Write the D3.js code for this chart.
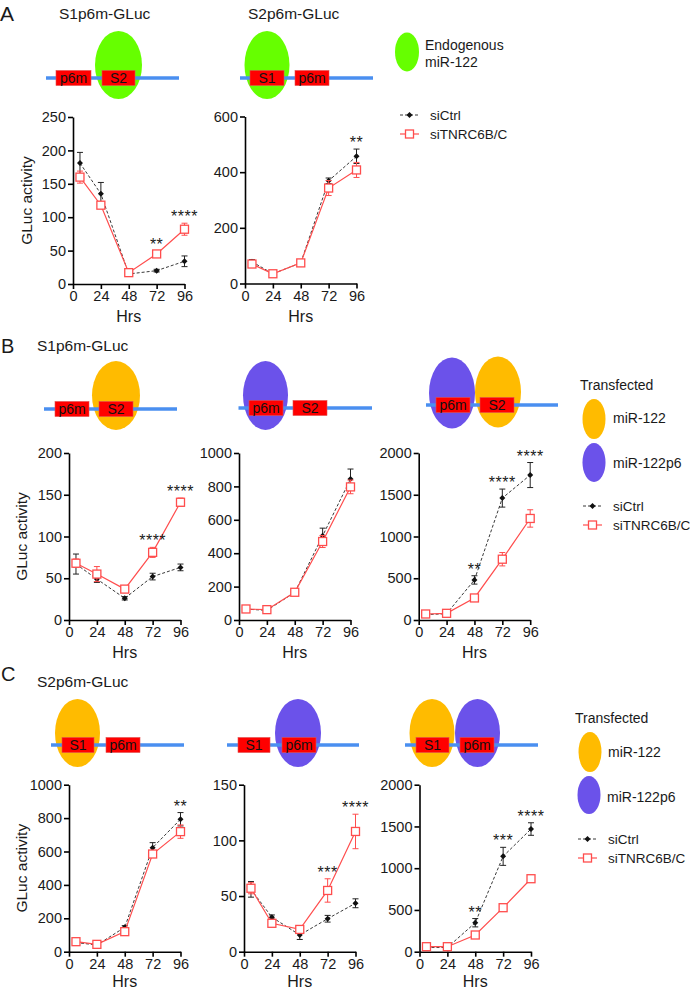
<!DOCTYPE html>
<html><head><meta charset="utf-8">
<script src="https://cdn.jsdelivr.net/npm/d3@7"></script>
<style>body{margin:0;background:#fff}svg{display:block}</style>
</head><body><svg id="c" width="690" height="991"></svg>
<script>
// ---------- DATA ----------
const hours = [6, 24, 48, 72, 96];
const xTicks = [0, 24, 48, 72, 96];
const seriesNames = ["siCtrl", "siTNRC6B/C"];

// Panel A
const a1Ticks = [0, 50, 100, 150, 200, 250];
const a1Ctrl = [181, 135, 15, 20, 34];
const a1CtrlErr = [16, 17, 2, 2, 8];
const a1Tnrc = [160, 118, 17, 45, 82];
const a1TnrcErr = [9, 5, 3, 4, 9];
const a1Stars = ["", "", "", "**", "****"];

const a2Ticks = [0, 200, 400, 600];
const a2Ctrl = [78, 35, 74, 369, 457];
const a2CtrlErr = [8, 4, 5, 10, 26];
const a2Tnrc = [70, 35, 74, 343, 408];
const a2TnrcErr = [6, 4, 5, 27, 27];
const a2Stars = ["", "", "", "", "**"];

// Panel B
const b1Ticks = [0, 50, 100, 150, 200];
const b1Ctrl = [67, 49, 26, 52, 63];
const b1CtrlErr = [12, 4, 2, 4, 4];
const b1Tnrc = [68, 55, 37, 81, 141];
const b1TnrcErr = [5, 9, 4, 6, 5];
const b1Stars = ["", "", "", "****", "****"];

const b2Ticks = [0, 200, 400, 600, 800, 1000];
const b2Ctrl = [65, 58, 165, 504, 844];
const b2CtrlErr = [5, 5, 10, 46, 60];
const b2Tnrc = [66, 62, 166, 470, 797];
const b2TnrcErr = [5, 5, 10, 36, 41];
const b2Stars = ["", "", "", "", ""];

const b3Ticks = [0, 500, 1000, 1500, 2000];
const b3Ctrl = [65, 75, 480, 1460, 1736];
const b3CtrlErr = [10, 10, 50, 108, 150];
const b3Tnrc = [72, 80, 264, 728, 1216];
const b3TnrcErr = [10, 10, 25, 80, 104];
const b3Stars = ["", "", "**", "****", "****"];

// Panel C
const c1Ticks = [0, 200, 400, 600, 800, 1000];
const c1Ctrl = [55, 40, 146, 623, 793];
const c1CtrlErr = [5, 5, 10, 30, 40];
const c1Tnrc = [60, 44, 120, 585, 719];
const c1TnrcErr = [5, 5, 15, 15, 40];
const c1Stars = ["", "", "", "", "**"];

const c2Ticks = [0, 50, 100, 150];
const c2Ctrl = [56, 31, 15, 29.6, 43.5];
const c2CtrlErr = [7, 2, 4, 3, 4];
const c2Tnrc = [57, 25.5, 20, 55, 108];
const c2TnrcErr = [5, 2, 2, 10.5, 15.5];
const c2Stars = ["", "", "", "***", "****"];

const c3Ticks = [0, 500, 1000, 1500, 2000];
const c3Ctrl = [50, 50, 347, 1142, 1469];
const c3CtrlErr = [10, 10, 50, 108, 75];
const c3Tnrc = [60, 60, 200, 527, 874];
const c3TnrcErr = [10, 10, 15, 20, 20];
const c3Stars = ["", "", "**", "***", "****"];

// ---------- STYLE ----------
const FONT = '"Liberation Sans", Arial, Helvetica, sans-serif';
const GREEN = "#66ff00", ORANGE = "#ffbb00", PURPLE = "#6b52ea", BLUE = "#4a8ff0", BOXRED = "#ff0000";
const SRED = "#ff4d4d", INK = "#1a1a1a";

const svg = d3.select("#c").attr("font-family", FONT);

function txt(x, y, s, size, opts = {}) {
  const t = svg.append("text").attr("x", x).attr("y", y).text(s)
    .attr("font-size", size).attr("fill", opts.fill || INK)
    .attr("text-anchor", opts.anchor || "start");
  if (opts.rotate) t.attr("transform", `rotate(-90,${x},${y})`);
  if (opts.ls) t.attr("letter-spacing", opts.ls);
  return t;
}

const diamond = "M0,-3L3,0L0,3L-3,0Z";

function drawChart(cfg) {
  const x = d3.scaleLinear().domain([0, 96]).range([cfg.left, cfg.left + 111.5]);
  const y = d3.scaleLinear().domain([0, d3.max(cfg.yTicks)]).range([cfg.bottom, cfg.bottom - 167]);
  const g = svg.append("g");
  const xa = g.append("g").attr("transform", `translate(0,${cfg.bottom})`)
    .call(d3.axisBottom(x).tickValues(xTicks).tickFormat(d3.format("d")).tickSize(5).tickPadding(2).tickSizeOuter(0));
  const ya = g.append("g").attr("transform", `translate(${cfg.left},0)`)
    .call(d3.axisLeft(y).tickValues(cfg.yTicks).tickFormat(d3.format("d")).tickSize(5).tickPadding(2).tickSizeOuter(0));
  [xa, ya].forEach(a => {
    a.selectAll("path,line").attr("stroke", "#000").attr("stroke-width", 1.6);
    a.selectAll("text").attr("font-size", 14.5).attr("fill", INK).attr("font-family", FONT);
  });
  // axis titles
  txt(x(48), cfg.hrsY, "Hrs", 16, { anchor: "middle" });
  if (cfg.ylab) txt(cfg.ylabX, (cfg.bottom + cfg.bottom - 167) / 2, "GLuc activity", 15.5, { anchor: "middle", rotate: true });

  const line = d3.line().x((d, i) => x(hours[i])).y(d => y(d));
  const drawSeries = (vals, errs, color, dashed, width) => {
    g.append("path").datum(vals).attr("d", line).attr("fill", "none")
      .attr("stroke", color).attr("stroke-width", width)
      .attr("stroke-dasharray", dashed ? "3,2" : null);
    vals.forEach((v, i) => {
      const e = errs[i], cx = x(hours[i]);
      const p = d3.path();
      p.moveTo(cx, y(v - e)); p.lineTo(cx, y(v + e));
      p.moveTo(cx - 3, y(v + e)); p.lineTo(cx + 3, y(v + e));
      p.moveTo(cx - 3, y(v - e)); p.lineTo(cx + 3, y(v - e));
      g.append("path").attr("d", p.toString()).attr("stroke", color).attr("stroke-width", 1).attr("fill", "none");
    });
  };
  drawSeries(cfg.ctrl, cfg.ctrlErr, "#222", true, 0.9);
  g.selectAll(null).data(cfg.ctrl).join("path").attr("d", diamond)
    .attr("transform", (d, i) => `translate(${x(hours[i])},${y(d)})`).attr("fill", "#111");
  drawSeries(cfg.tnrc, cfg.tnrcErr, SRED, false, 1.2);
  g.selectAll(null).data(cfg.tnrc).join("rect")
    .attr("x", (d, i) => x(hours[i]) - 4).attr("y", d => y(d) - 4)
    .attr("width", 8).attr("height", 8).attr("fill", "#fff").attr("stroke", SRED).attr("stroke-width", 1.3);
  // stars
  cfg.stars.forEach((s, i) => {
    if (!s) return;
    const top = Math.max(cfg.ctrl[i] + cfg.ctrlErr[i], cfg.tnrc[i] + cfg.tnrcErr[i]);
    txt(x(hours[i]), y(top) - 1, s, 16, { anchor: "middle", ls: 0.5 });
  });
}

function drawDiagram(d) {
  d.ellipses.forEach(e => svg.append("ellipse").attr("cx", e.cx).attr("cy", e.cy)
    .attr("rx", e.rx).attr("ry", e.ry).attr("fill", e.color));
  svg.append("line").attr("x1", d.x1).attr("x2", d.x2).attr("y1", d.ly).attr("y2", d.ly)
    .attr("stroke", BLUE).attr("stroke-width", 3.5);
  d.boxes.forEach(b => {
    svg.append("rect").attr("x", b.x1).attr("y", d.ly - 7.5).attr("width", b.x2 - b.x1).attr("height", 15)
      .attr("fill", BOXRED).attr("stroke", "#e05050").attr("stroke-width", 0.6);
    txt((b.x1 + b.x2) / 2, d.ly + 5, b.label, 14, { anchor: "middle", fill: "#111" });
  });
}

function drawSeriesLegend(x0, y0, gap) {
  const lx = x0, tx = x0 + 30;
  svg.append("line").attr("x1", lx).attr("x2", lx + 19).attr("y1", y0).attr("y2", y0)
    .attr("stroke", "#222").attr("stroke-width", 0.9).attr("stroke-dasharray", "3,2");
  svg.append("path").attr("d", diamond).attr("transform", `translate(${lx + 9.5},${y0})`).attr("fill", "#111");
  txt(tx, y0 + 5, seriesNames[0], 13.5);
  const y1 = y0 + gap;
  svg.append("line").attr("x1", lx).attr("x2", lx + 19).attr("y1", y1).attr("y2", y1)
    .attr("stroke", SRED).attr("stroke-width", 1.2);
  svg.append("rect").attr("x", lx + 5.5).attr("y", y1 - 4).attr("width", 8).attr("height", 8)
    .attr("fill", "#fff").attr("stroke", SRED).attr("stroke-width", 1.3);
  txt(tx, y1 + 5, seriesNames[1], 13.5);
}

// ---------- PANEL A ----------
txt(0, 21, "A", 21);
txt(59, 19, "S1p6m-GLuc", 15.5);
txt(248, 19, "S2p6m-GLuc", 15.5);
drawDiagram({ x1: 46, x2: 179, ly: 78, ellipses: [{ cx: 118.5, cy: 65, rx: 23.5, ry: 34, color: GREEN }],
  boxes: [{ x1: 56, x2: 91, label: "p6m" }, { x1: 102, x2: 135, label: "S2" }] });
drawDiagram({ x1: 240, x2: 373, ly: 78, ellipses: [{ cx: 267, cy: 65, rx: 22.5, ry: 34, color: GREEN }],
  boxes: [{ x1: 250, x2: 284, label: "S1" }, { x1: 295, x2: 329, label: "p6m" }] });
svg.append("ellipse").attr("cx", 407).attr("cy", 52).attr("rx", 12).attr("ry", 19.5).attr("fill", GREEN);
txt(425, 50, "Endogenous", 14);
txt(425, 67, "miR-122", 14);
drawSeriesLegend(400, 115, 19);

drawChart({ left: 73, bottom: 284, yTicks: a1Ticks, ctrl: a1Ctrl, ctrlErr: a1CtrlErr, tnrc: a1Tnrc, tnrcErr: a1TnrcErr, stars: a1Stars, hrsY: 322, ylab: true, ylabX: 32 });
drawChart({ left: 245, bottom: 283.5, yTicks: a2Ticks, ctrl: a2Ctrl, ctrlErr: a2CtrlErr, tnrc: a2Tnrc, tnrcErr: a2TnrcErr, stars: a2Stars, hrsY: 322 });

// ---------- PANEL B ----------
txt(1, 353, "B", 20);
txt(37, 351, "S1p6m-GLuc", 15.5);
drawDiagram({ x1: 44, x2: 177, ly: 409, ellipses: [{ cx: 116, cy: 395.5, rx: 24, ry: 34.5, color: ORANGE }],
  boxes: [{ x1: 55, x2: 89, label: "p6m" }, { x1: 99, x2: 133, label: "S2" }] });
drawDiagram({ x1: 238.5, x2: 372, ly: 408, ellipses: [{ cx: 265.5, cy: 395.5, rx: 22.5, ry: 34.5, color: PURPLE }],
  boxes: [{ x1: 249, x2: 283, label: "p6m" }, { x1: 293, x2: 327, label: "S2" }] });
drawDiagram({ x1: 426, x2: 558, ly: 405, ellipses: [{ cx: 452, cy: 393, rx: 23, ry: 35.5, color: PURPLE }, { cx: 498, cy: 392, rx: 23, ry: 35.5, color: ORANGE }],
  boxes: [{ x1: 436, x2: 470, label: "p6m" }, { x1: 480, x2: 514, label: "S2" }] });
txt(580, 390, "Transfected", 14);
svg.append("ellipse").attr("cx", 594).attr("cy", 419).attr("rx", 11.5).attr("ry", 20).attr("fill", ORANGE);
txt(613, 423, "miR-122", 14);
svg.append("ellipse").attr("cx", 594).attr("cy", 462.5).attr("rx", 11.5).attr("ry", 19.5).attr("fill", PURPLE);
txt(613, 468, "miR-122p6", 14);
drawSeriesLegend(583, 506, 19);

drawChart({ left: 69, bottom: 620, yTicks: b1Ticks, ctrl: b1Ctrl, ctrlErr: b1CtrlErr, tnrc: b1Tnrc, tnrcErr: b1TnrcErr, stars: b1Stars, hrsY: 658, ylab: true, ylabX: 27 });
drawChart({ left: 239, bottom: 620, yTicks: b2Ticks, ctrl: b2Ctrl, ctrlErr: b2CtrlErr, tnrc: b2Tnrc, tnrcErr: b2TnrcErr, stars: b2Stars, hrsY: 658 });
drawChart({ left: 418.7, bottom: 620, yTicks: b3Ticks, ctrl: b3Ctrl, ctrlErr: b3CtrlErr, tnrc: b3Tnrc, tnrcErr: b3TnrcErr, stars: b3Stars, hrsY: 658 });

// ---------- PANEL C ----------
txt(1, 681, "C", 20);
txt(37, 687, "S2p6m-GLuc", 15.5);
drawDiagram({ x1: 51, x2: 184, ly: 745, ellipses: [{ cx: 77.5, cy: 733, rx: 22.5, ry: 34, color: ORANGE }],
  boxes: [{ x1: 62, x2: 94, label: "S1" }, { x1: 106, x2: 140, label: "p6m" }] });
drawDiagram({ x1: 227, x2: 359, ly: 745, ellipses: [{ cx: 298, cy: 733, rx: 23, ry: 34, color: PURPLE }],
  boxes: [{ x1: 238, x2: 270, label: "S1" }, { x1: 282, x2: 316, label: "p6m" }] });
drawDiagram({ x1: 405, x2: 538, ly: 745, ellipses: [{ cx: 432, cy: 733, rx: 22.5, ry: 34, color: ORANGE }, { cx: 477.5, cy: 733, rx: 22.5, ry: 34, color: PURPLE }],
  boxes: [{ x1: 416, x2: 449, label: "S1" }, { x1: 460, x2: 494, label: "p6m" }] });
txt(575, 723, "Transfected", 14);
svg.append("ellipse").attr("cx", 590).attr("cy", 752).attr("rx", 11.5).attr("ry", 20).attr("fill", ORANGE);
txt(608, 757, "miR-122", 14);
svg.append("ellipse").attr("cx", 589).attr("cy", 795).attr("rx", 11.5).attr("ry", 19).attr("fill", PURPLE);
txt(607, 802, "miR-122p6", 14);
drawSeriesLegend(578, 839, 19);

drawChart({ left: 69, bottom: 951.7, yTicks: c1Ticks, ctrl: c1Ctrl, ctrlErr: c1CtrlErr, tnrc: c1Tnrc, tnrcErr: c1TnrcErr, stars: c1Stars, hrsY: 987, ylab: true, ylabX: 27 });
drawChart({ left: 244, bottom: 951.7, yTicks: c2Ticks, ctrl: c2Ctrl, ctrlErr: c2CtrlErr, tnrc: c2Tnrc, tnrcErr: c2TnrcErr, stars: c2Stars, hrsY: 987 });
drawChart({ left: 419.5, bottom: 951.7, yTicks: c3Ticks, ctrl: c3Ctrl, ctrlErr: c3CtrlErr, tnrc: c3Tnrc, tnrcErr: c3TnrcErr, stars: c3Stars, hrsY: 987 });
</script></body></html>
